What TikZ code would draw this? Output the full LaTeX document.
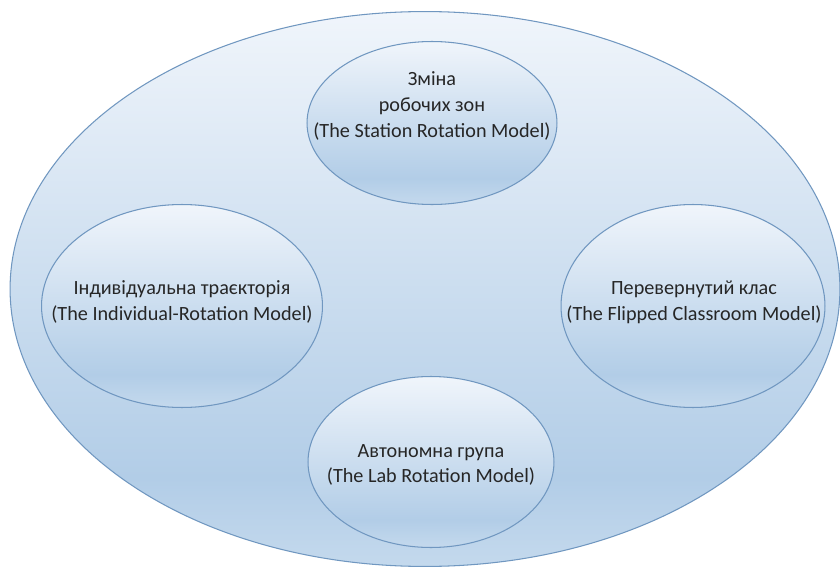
\documentclass[tikz,border=0pt]{standalone}
\usepackage{fontspec}
\setmainfont{Carlito}
\usetikzlibrary{shapes.geometric}
\definecolor{rimblue}{HTML}{7097C0}
\definecolor{paleblue}{HTML}{F0F5FB}
\definecolor{deepblue}{HTML}{B2CDE7}
\definecolor{sheenblue}{HTML}{C4D9ED}
\definecolor{inktext}{HTML}{262626}
\pgfdeclareverticalshading{officeblue}{100bp}{color(0bp)=(sheenblue); color(25bp)=(sheenblue); color(33bp)=(deepblue); color(75bp)=(paleblue); color(100bp)=(paleblue)}
\begin{document}
\begin{tikzpicture}[x=0.02cm,y=0.02cm]
        \useasboundingbox (0,0) rectangle (840,566);
        \tikzset{blob/.style={ellipse,draw=rimblue,line width=0.6pt,shading=officeblue,inner sep=0pt}}
        % outer frame
        \node[blob,minimum width=16.6cm,minimum height=11.1cm] (frame) at (425,277) {};
        \begin{scope}[every node/.style={blob}]
            \node[minimum width=5.0cm,minimum height=3.26cm]  (station) at (432,443) {};
            \node[minimum width=5.62cm,minimum height=4.06cm] (indiv)   at (182,260) {};
            \node[minimum width=5.28cm,minimum height=4.06cm] (flip)    at (693,260) {};
            \node[minimum width=4.92cm,minimum height=3.42cm] (lab)     at (431,104) {};
        \end{scope}
        \begin{scope}[every node/.style={align=center,text=inktext,font=\fontsize{11.5}{14.6}\selectfont}]
            \node (stationtxt) at (432,460) {Зміна\\робочих зон\\(The Station Rotation Model)};
            \node (indivtxt)   at (182,264) {Індивідуальна траєкторія\\(The Individual-Rotation Model)};
            \node (fliptxt)    at (694,264) {Перевернутий клас\\(The Flipped Classroom Model)};
            \node (labtxt)     at (431,101) {Автономна група\\(The Lab Rotation Model)};
        \end{scope}
    \end{tikzpicture}
\end{document}
